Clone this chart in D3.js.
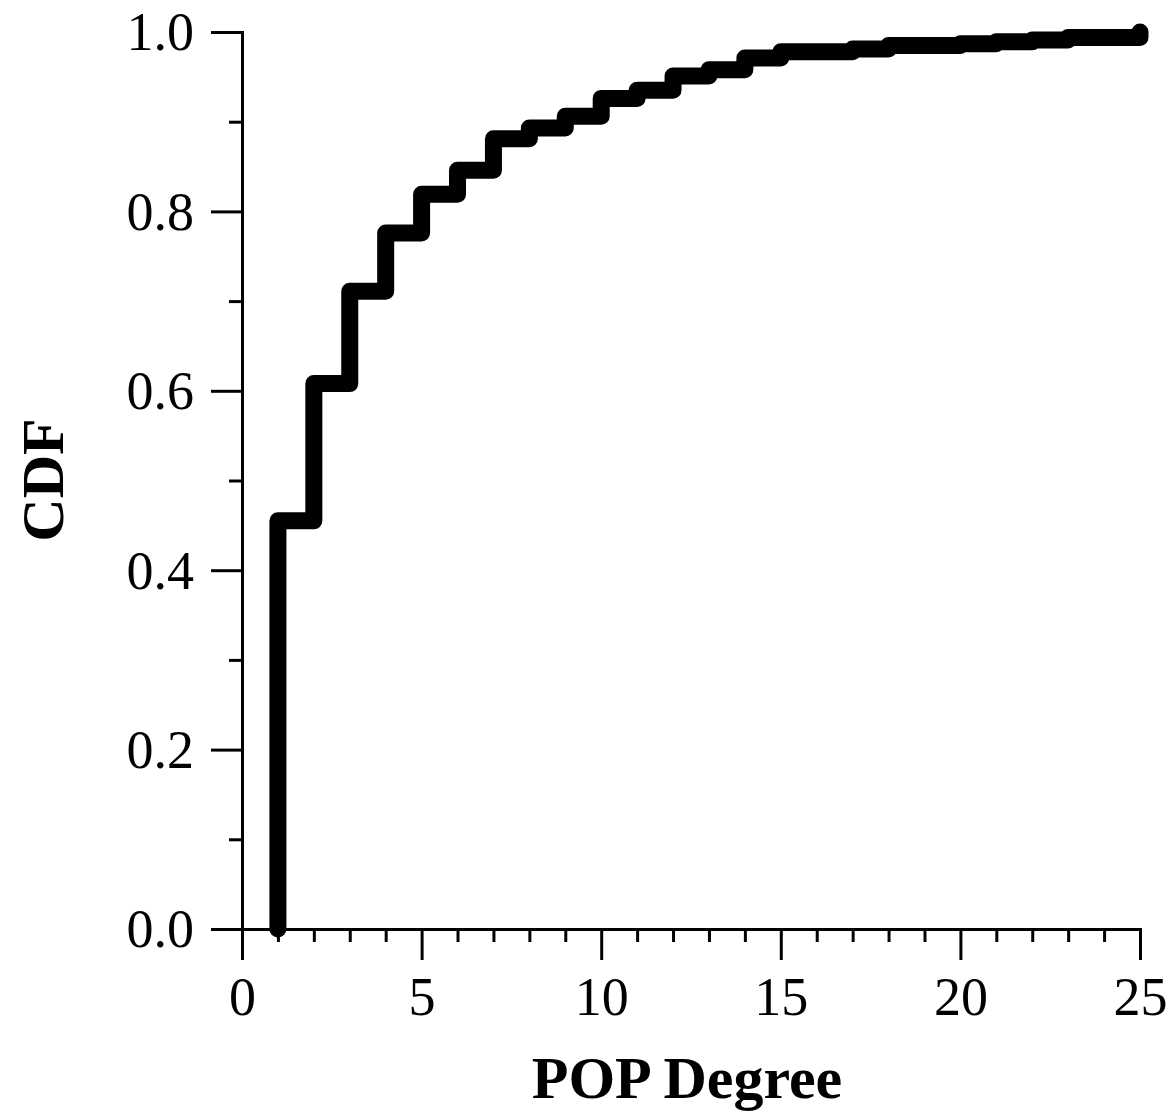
<!DOCTYPE html>
<html>
<head>
<meta charset="utf-8">
<script src="https://cdn.jsdelivr.net/npm/d3@7"></script>
<style>
  body { margin: 0; background: #fff; }
  svg { display: block; }
</style>
</head>
<body>
<svg id="chart"></svg>
<script>
// CDF of POP degree
const degrees = [1, 2, 3, 4, 5, 6, 7, 8, 9, 10, 11, 12, 13, 14, 15, 16, 17, 18, 19, 20, 21, 22, 23, 24, 25];
const cdf = [0.455, 0.608, 0.711, 0.776, 0.819, 0.846, 0.881, 0.893, 0.906, 0.926, 0.935, 0.951, 0.958,
             0.971, 0.978, 0.978, 0.981, 0.985, 0.985, 0.987, 0.989, 0.991, 0.994, 0.994, 1.0];
const xMajorTicks = [0, 5, 10, 15, 20, 25];
const yMajorTicks = [0.0, 0.2, 0.4, 0.6, 0.8, 1.0];

const width = 1172;
const height = 1114;

const svg = d3.select("#chart")
    .attr("width", width)
    .attr("height", height)
    .attr("font-family", "'Liberation Serif', 'Times New Roman', serif");

const x = d3.scaleLinear().domain([0, 25]).range([242, 1140]);
const y = d3.scaleLinear().domain([0, 1]).range([929, 32]);

// x axis: minor ticks every 1, major every 5
svg.append("g")
    .attr("transform", `translate(0,${y(0)})`)
    .call(d3.axisBottom(x).tickValues(d3.range(0, 26).filter(d => d % 5 !== 0))
        .tickSize(13).tickFormat(""));
const xAxis = svg.append("g")
    .attr("transform", `translate(0,${y(0)})`)
    .call(d3.axisBottom(x).tickValues(xMajorTicks).tickSize(31).tickSizeOuter(0).tickPadding(17)
        .tickFormat(d3.format("d")));

// y axis: minor every 0.1, major every 0.2
svg.append("g")
    .attr("transform", `translate(${x(0)},0)`)
    .call(d3.axisLeft(y).tickValues([0.1, 0.3, 0.5, 0.7, 0.9]).tickSize(13).tickFormat(""));
const yAxis = svg.append("g")
    .attr("transform", `translate(${x(0)},0)`)
    .call(d3.axisLeft(y).tickValues(yMajorTicks).tickSize(31).tickSizeOuter(0).tickPadding(17)
        .tickFormat(d3.format(".1f")));

svg.selectAll(".domain, .tick line")
    .attr("stroke", "#000")
    .attr("stroke-width", 3);
svg.selectAll(".tick text")
    .attr("font-size", 54)
    .attr("font-family", "'Liberation Serif', 'Times New Roman', serif")
    .attr("fill", "#000");
xAxis.selectAll(".tick text").attr("dy", "0.71em");
yAxis.selectAll(".tick text").attr("dy", "0.33em");

// step line
const points = [{ d: degrees[0], v: 0 }].concat(degrees.map((d, i) => ({ d: d, v: cdf[i] })));
const line = d3.line()
    .x(p => x(p.d))
    .y(p => y(p.v))
    .curve(d3.curveStepAfter);

svg.append("path")
    .datum(points)
    .attr("d", line)
    .attr("fill", "none")
    .attr("stroke", "#000")
    .attr("stroke-width", 17)
    .attr("stroke-linejoin", "round")
    .attr("stroke-linecap", "round");

// axis titles
svg.append("text")
    .attr("x", 687)
    .attr("y", 1098)
    .attr("text-anchor", "middle")
    .attr("font-size", 60)
    .attr("font-weight", "bold")
    .text("POP Degree");

svg.append("text")
    .attr("transform", "translate(63,480) rotate(-90)")
    .attr("text-anchor", "middle")
    .attr("font-size", 60)
    .attr("font-weight", "bold")
    .text("CDF");
</script>
</body>
</html>
